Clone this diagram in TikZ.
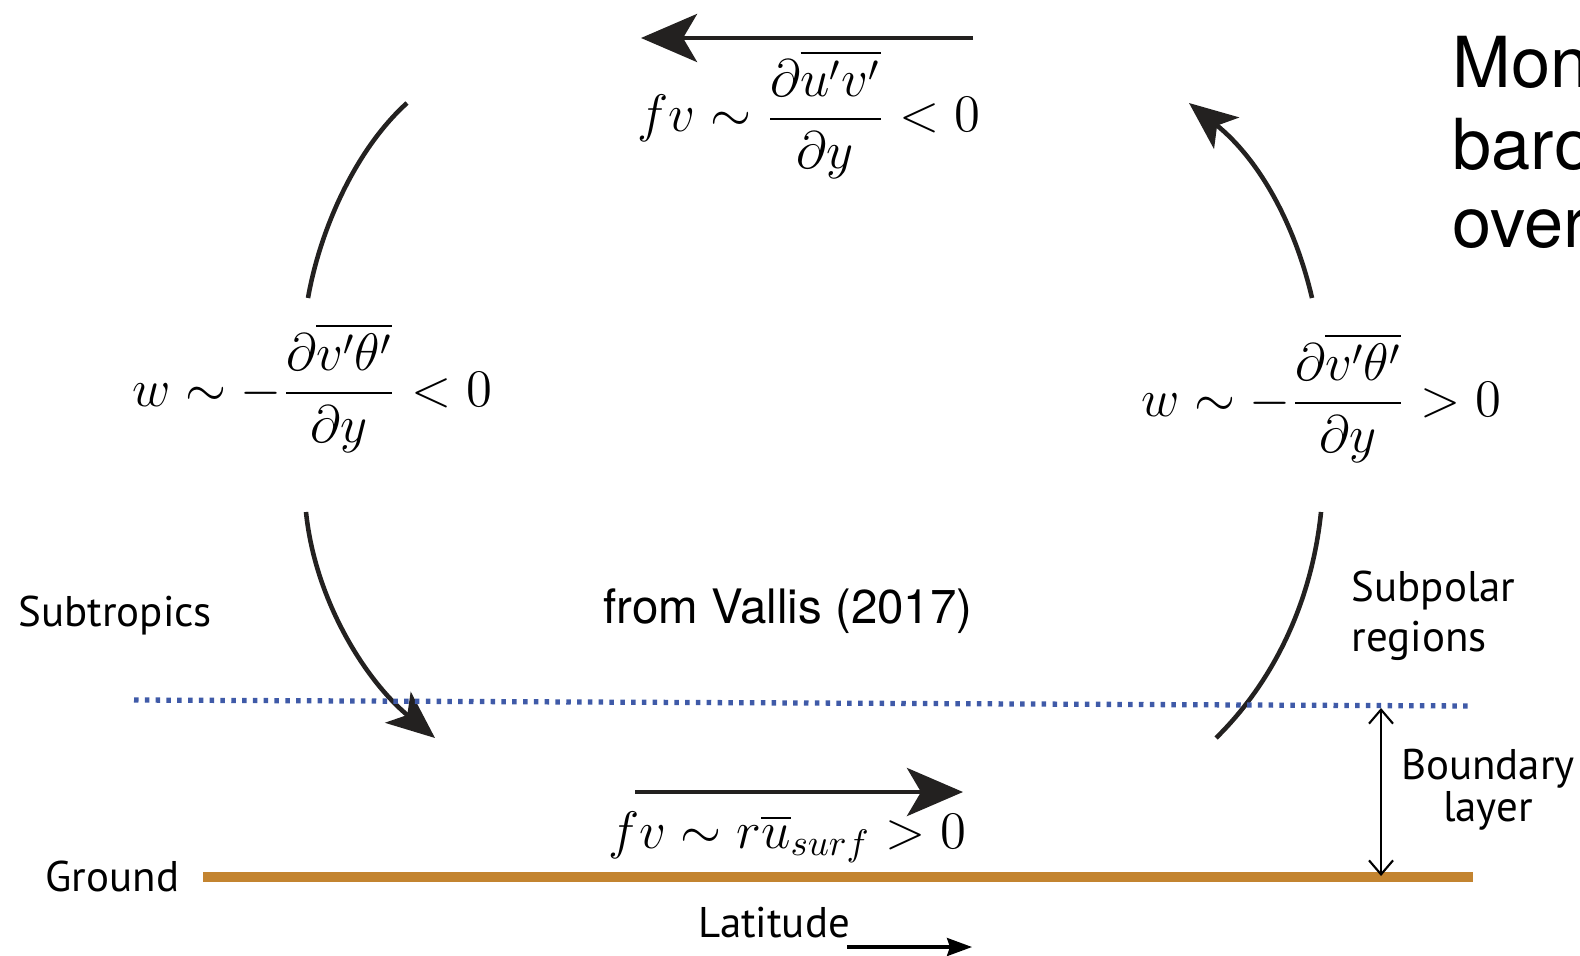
\RequirePackage{fix-cm}
\documentclass[tikz,border=0pt]{standalone}
\usepackage{amsmath,amssymb}
\usepackage{fontspec}
\setmainfont{TeX Gyre Heros}
\newfontfamily\labelfont{PT Sans}
\usetikzlibrary{arrows.meta}
\definecolor{groundbrown}{RGB}{195,132,48}
\definecolor{bldotblue}{RGB}{63,90,168}
\definecolor{arrowblack}{RGB}{35,33,32}

\begin{document}
\begin{tikzpicture}[
    x=0.01cm, y=-0.01cm,
    flow/.style={line width=1.3pt, draw=arrowblack},
    bigtip/.style={-{Stealth[length=5.6mm, width=4.8mm, inset=1.4mm]}},
    curvetip/.style={-{Stealth[length=4.8mm, width=4mm, inset=1.2mm]}},
    eq/.style={inner sep=0pt, font=\fontsize{15}{18}\selectfont},
    lbl/.style={inner sep=0pt, font=\labelfont\fontsize{12.2}{14}\selectfont},
    title/.style={inner sep=0pt, anchor=base west, font=\fontsize{20}{23}\selectfont},
]
\useasboundingbox (0,0) rectangle (1580,955);

% End points of the circulation arrows
\coordinate (topR) at (973,38);
\coordinate (topL) at (641,38);
\coordinate (luA) at (407,103);
\coordinate (luB) at (308,298);
\coordinate (llA) at (306,512);
\coordinate (llB) at (435,738);
\coordinate (botL) at (635,792);
\coordinate (botR) at (963,792);
\coordinate (rlA) at (1321,512);
\coordinate (rlB) at (1216,738);
\coordinate (ruA) at (1312,298);
\coordinate (ruB) at (1189,103);

% Equations
\node[eq, anchor=base] (eqtop) at (809,132)
    {$fv \sim \dfrac{\partial\overline{u'v'}}{\partial y} < 0$};
\node[eq, anchor=base] (eqleft) at (312,406)
    {$w \sim -\dfrac{\partial\overline{v'\theta'}}{\partial y} < 0$};
\node[eq, anchor=base] (eqright) at (1321,416)
    {$w \sim -\dfrac{\partial\overline{v'\theta'}}{\partial y} > 0$};
\node[eq, anchor=base] (eqbot) at (787,848)
    {$fv \sim r\overline{u}_{surf} > 0$};

% Circulation
\draw[flow, bigtip] (topR) -- (topL);
\draw[flow] (luA) .. controls (355,150) and (320,230) .. (luB);
\draw[flow, curvetip] (llA) .. controls (315,600) and (365,680) .. (llB);
\draw[flow, bigtip] (botL) -- (botR);
\draw[flow] (rlA) .. controls (1312,600) and (1275,680) .. (rlB);
\draw[flow, curvetip] (ruA) .. controls (1295,225) and (1260,160) .. (ruB);

% Boundary layer top and ground
\coordinate (dotL) at (134,700);
\coordinate (dotR) at (1473,706);
\coordinate (gndL) at (203,877);
\coordinate (gndR) at (1473,877);
\draw[bldotblue, line width=1.5pt, dash pattern=on 0.45mm off 0.63mm] (dotL) -- (dotR);
\draw[groundbrown, line width=3.1pt] (gndL) -- (gndR);

% Boundary layer depth
\coordinate (blTop) at (1381,708);
\coordinate (blBot) at (1381,876);
\draw[line width=0.6pt, {Straight Barb[length=1.4mm, width=2.4mm]}-{Straight Barb[length=1.4mm, width=2.4mm]}] (blTop) -- (blBot);

% Labels
\node[lbl, anchor=base west] (subtrop) at (18,626) {Subtropics};
\node[lbl, anchor=west, align=left, font=\labelfont\fontsize{12.2}{14.2}\selectfont] (subpol) at (1351,616) {Subpolar\\regions};
\node[lbl, anchor=center, align=center, font=\labelfont\fontsize{12.2}{12}\selectfont] (blayer) at (1488,790) {Boundary\\layer};
\node[lbl, anchor=base west] (ground) at (45,891) {Ground};
\node[lbl, anchor=base west] (lat) at (698,937) {Latitude};
\coordinate (latA) at (847,947);
\coordinate (latB) at (972,947);
\draw[line width=0.9pt, -{Stealth[length=2.5mm, width=1.8mm, inset=0.3mm]}] (latA) -- (latB);
\node[inner sep=0pt, anchor=base west, font=\fontsize{13.5}{16}\selectfont] (src) at (603,623) {from Vallis (2017)};

% Title, cut by the frame
\begin{scope}
\clip (0,0) rectangle (1580,955);
\node[title] (t1) at (1452,88) {Mon};
\node[title] (t2) at (1452,170) {baro};
\node[title] (t3) at (1452,248) {over};
\end{scope}
\end{tikzpicture}
\end{document}
